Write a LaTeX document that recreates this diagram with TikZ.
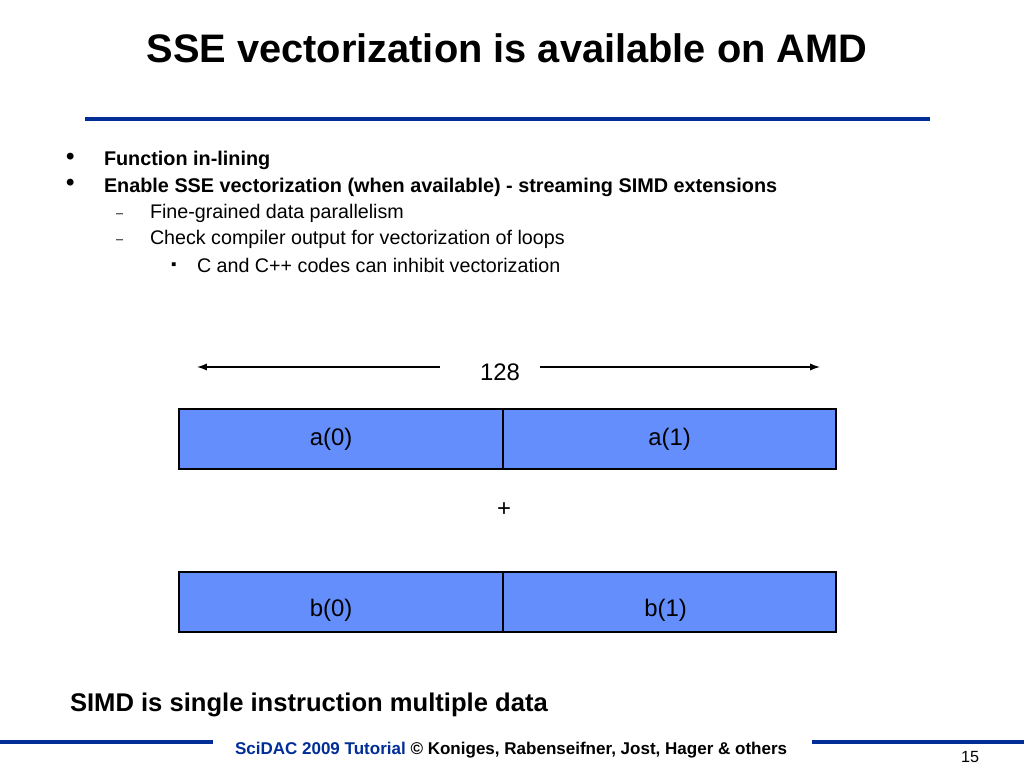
\documentclass[tikz,border=0pt]{standalone}
\usepackage{fontspec}
\setmainfont{Liberation Sans}
\usetikzlibrary{positioning}
\usetikzlibrary{arrows.meta}
\definecolor{slideblue}{RGB}{0,45,150}
\definecolor{cellblue}{RGB}{99,142,252}
\tikzset{
	x=0.025cm, y=-0.025cm,
	every node/.style={inner sep=0pt, outer sep=0pt},
	txt/.style={anchor=west, font=\fontsize{14}{16}\selectfont},
	btxt/.style={anchor=west, font=\fontsize{14.1}{16}\selectfont\bfseries},
	cellfont/.style={font=\fontsize{17}{20}\selectfont},
	cell/.style={draw, line width=1.6pt, fill=cellblue, minimum height=1.5cm, cellfont},
	dim/.style={-{Latex[length=7pt,width=5pt]}, line width=0.9pt},
	rule/.style={slideblue, line width=3pt}
}

\begin{document}
\begin{tikzpicture}
	\useasboundingbox (0,0) rectangle (1024,768);
	% Title
	\node (title) at (507,48) {\fontsize{28.3}{32}\selectfont\bfseries SSE vectorization is available on AMD};
	\draw[rule] (85,119) -- (930,119);

	% Bullets
	\node (b1) [btxt] at (66,159) {\fontsize{17}{17}\selectfont •};
	\node (t1) [btxt] at (104,160) {Function in-lining};
	\node (b2) [btxt] at (66,185) {\fontsize{17}{17}\selectfont •};
	\node (t2) [btxt] at (104,187) {Enable SSE vectorization (when available) - streaming SIMD extensions};
	\node (d1) [txt] at (116,216) {\fontsize{9}{10}\selectfont –};
	\node (t3) [txt] at (150,213) {Fine-grained data parallelism};
	\node (d2) [txt] at (116,242) {\fontsize{9}{10}\selectfont –};
	\node (t4) [txt] at (150,239) {Check compiler output for vectorization of loops};
	\node (s1) [txt] at (171,266) {\fontsize{11}{11}\selectfont ▪};
	\node (t5) [txt] at (197,265) {C and C++ codes can inhibit vectorization};

	% Register width
	\node (width) at (500,372) {\fontsize{17}{20}\selectfont 128};
	\coordinate (wl) at (440,367);
	\coordinate (wr) at (540,367);
	\coordinate (wl_end) at (197,367);
	\coordinate (wr_end) at (820,367);
	\draw[dim] (wl) -- (wl_end);
	\draw[dim] (wr) -- (wr_end);

	% Registers
	\node (a0) [cell, minimum width=8.1cm, anchor=north west, label={[cellfont, xshift=-0.25cm]center:a(0)}] at (179,409) {};
	\node (a1) [cell, minimum width=8.325cm, right=0pt of a0] {a(1)};
	\node (plus) at (504,510) {\fontsize{17}{20}\selectfont +};
	\node (b0) [cell, minimum width=8.1cm, below=2.575cm of a0, label={[cellfont, yshift=-0.2cm, xshift=-0.25cm]center:b(0)}] {};
	\node (b1c) [cell, minimum width=8.325cm, right=0pt of b0, label={[cellfont, yshift=-0.2cm, xshift=-0.1cm]center:b(1)}] {};

	\node (note) [anchor=west] at (70,705) {\fontsize{18.2}{20}\selectfont\bfseries SIMD is single instruction multiple data};

	% Footer
	\draw[rule] (0,742) -- (213,742);
	\draw[rule] (812,742) -- (1024,742);
	\node (foot) [anchor=west] at (235,750) {\fontsize{12.1}{14}\selectfont\bfseries{\color{slideblue}SciDAC 2009 Tutorial} © Koniges, Rabenseifner, Jost, Hager \& others};
	\node (page) at (970,757) {\fontsize{11.5}{12}\selectfont 15};
\end{tikzpicture}
\end{document}
